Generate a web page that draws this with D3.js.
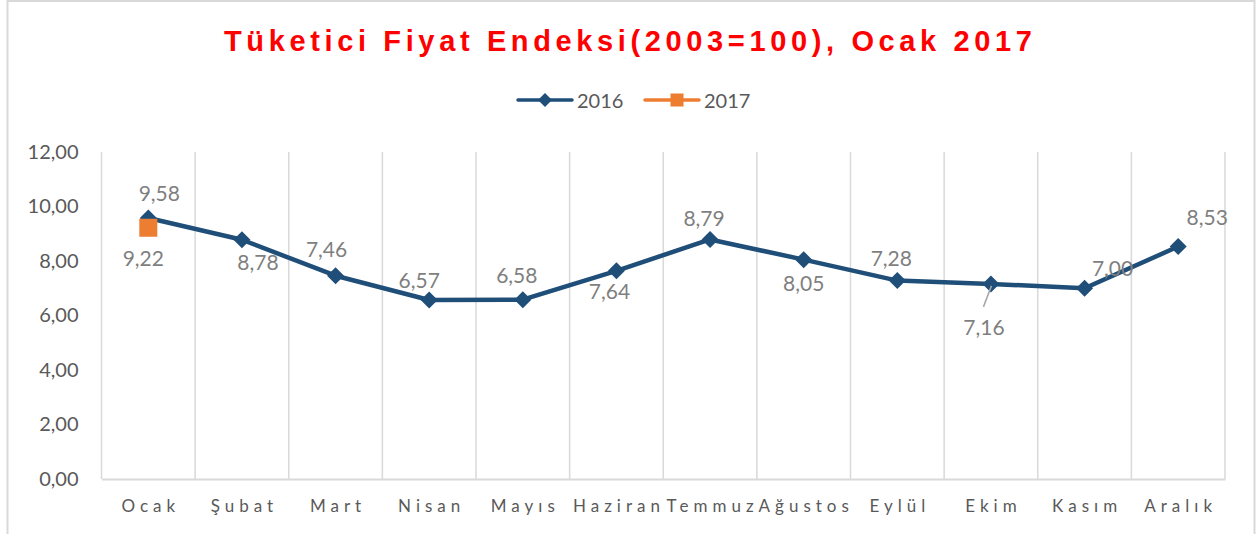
<!DOCTYPE html>
<html><head><meta charset="utf-8">
<script src="https://cdn.jsdelivr.net/npm/d3@7"></script>
<style>
body{margin:0;background:#fff;}
svg{display:block;}
</style></head>
<body><svg id="c" width="1258" height="534"></svg>
<script>
// ---- data ----
const months = ["Ocak","Şubat","Mart","Nisan","Mayıs","Haziran","Temmuz","Ağustos","Eylül","Ekim","Kasım","Aralık"];
const values2016 = [9.58, 8.78, 7.46, 6.57, 6.58, 7.64, 8.79, 8.05, 7.28, 7.16, 7.00, 8.53];
const values2017 = [9.22];
const seriesNames = ["2016", "2017"];
const yTicks = [0, 2, 4, 6, 8, 10, 12];
const titleText = "Tüketici Fiyat Endeksi(2003=100), Ocak 2017";

// ---- layout (label offsets relative to the point, px) ----
const labelOffsets2016 = [[11,-25],[16,22],[-9,-27],[-10,-20],[-6,-25],[-7,20],[-6,-22],[0,23],[-6,-23],[-7,43],[28,-21],[29,-30]];
const labelOffsets2017 = [[-5,30]];

const W = 1258, H = 534;
const plot = {left: 101.5, right: 1225, top: 152, bottom: 479};
const blue = "#1F4E79", orange = "#ED7D31", grid = "#D9D9D9";
const font = "Lato, 'Open Sans', sans-serif";

const loc = d3.formatLocale({decimal: ",", thousands: ".", grouping: [3], currency: ["", ""]});
const fmt = loc.format(".2f");

const svg = d3.select("#c");

// outer border
svg.append("rect").attr("x", 7.5).attr("y", 1).attr("width", 1247).attr("height", 560)
  .attr("fill", "#fff").attr("stroke", grid).attr("stroke-width", 2);

const x = d3.scaleBand().domain(months).range([plot.left, plot.right]).padding(0);
const y = d3.scaleLinear().domain([0, 12]).range([plot.bottom, plot.top]);

// vertical gridlines at category boundaries
const bounds = months.map(m => x(m)).concat([x(months[months.length-1]) + x.bandwidth()]);
svg.append("g").selectAll("line").data(bounds).join("line")
  .attr("x1", d => d).attr("x2", d => d)
  .attr("y1", y(12)).attr("y2", y(0))
  .attr("stroke", grid).attr("stroke-width", 1.5);

// y axis
const yAxis = svg.append("g").attr("transform", `translate(${plot.left},0)`)
  .call(d3.axisLeft(y).tickValues(yTicks).tickFormat(fmt).tickSize(0).tickPadding(23));
yAxis.select(".domain").remove();
yAxis.selectAll("text").attr("font-family", font).attr("font-size", 20).attr("fill", "#595959");

// x axis
const xAxis = svg.append("g").attr("transform", `translate(0,${plot.bottom})`)
  .call(d3.axisBottom(x).tickSize(0).tickSizeOuter(0).tickPadding(21));
xAxis.select(".domain").attr("stroke", grid).attr("stroke-width", 2);
xAxis.selectAll("text").attr("font-family", font).attr("font-size", 17).attr("fill", "#595959")
  .attr("letter-spacing", "5px").attr("dx", 2.5);

// line 2016
const cx = m => x(m) + x.bandwidth() / 2;
const line = d3.line().x((d, i) => cx(months[i])).y(d => y(d));
svg.append("path").datum(values2016).attr("d", line)
  .attr("fill", "none").attr("stroke", blue).attr("stroke-width", 4.5).attr("stroke-linejoin", "round");

const diamond = r => `M0,${-r}L${r},0L0,${r}L${-r},0Z`;
svg.append("g").selectAll("path").data(values2016).join("path")
  .attr("transform", (d, i) => `translate(${cx(months[i])},${y(d)})`)
  .attr("d", diamond(8.5)).attr("fill", blue);

// 2017 series
svg.append("g").selectAll("rect").data(values2017).join("rect")
  .attr("x", (d, i) => cx(months[i]) - 9).attr("y", d => y(d) - 9)
  .attr("width", 18).attr("height", 18).attr("fill", orange);

// leader line for Ekim label
{
  const i = 9;
  const px = cx(months[i]), py = y(values2016[i]);
  svg.append("line").attr("x1", px + 0.5).attr("y1", py + 2).attr("x2", px - 7.5).attr("y2", py + 23)
    .attr("stroke", "#A6A6A6").attr("stroke-width", 1.5);
}

// data labels
function labels(vals, offs) {
  svg.append("g").selectAll("text").data(vals).join("text")
    .attr("x", (d, i) => cx(months[i]) + offs[i][0])
    .attr("y", (d, i) => y(d) + offs[i][1])
    .attr("text-anchor", "middle").attr("dominant-baseline", "central")
    .attr("font-family", font).attr("font-size", 21).attr("fill", "#7F7F7F")
    .text(d => fmt(d));
}
labels(values2016, labelOffsets2016);
labels(values2017, labelOffsets2017);

// title
svg.append("text").attr("x", 628).attr("y", 51).attr("text-anchor", "middle")
  .attr("font-family", "'Liberation Sans', Arial, sans-serif").attr("font-weight", "bold")
  .attr("font-size", 29).attr("fill", "#FF0000")
  .attr("textLength", 808).attr("lengthAdjust", "spacing")
  .text(titleText);

// legend
const lg = svg.append("g");
const legendItems = [
  {name: seriesNames[0], color: blue, x0: 518, shape: "diamond"},
  {name: seriesNames[1], color: orange, x0: 645, shape: "square"}
];
legendItems.forEach(it => {
  lg.append("line").attr("x1", it.x0).attr("x2", it.x0 + 54).attr("y1", 100).attr("y2", 100)
    .attr("stroke", it.color).attr("stroke-width", 3.5).attr("stroke-linecap", "round");
  if (it.shape === "diamond") {
    lg.append("path").attr("transform", `translate(${it.x0 + 27},100)`).attr("d", diamond(7)).attr("fill", it.color);
  } else {
    lg.append("rect").attr("x", it.x0 + 25.5).attr("y", 93.5).attr("width", 13).attr("height", 13).attr("fill", it.color);
  }
  lg.append("text").attr("x", it.x0 + 59).attr("y", 100).attr("dominant-baseline", "central")
    .attr("font-family", font).attr("font-size", 20).attr("fill", "#595959").text(it.name);
});
</script>
</body></html>
